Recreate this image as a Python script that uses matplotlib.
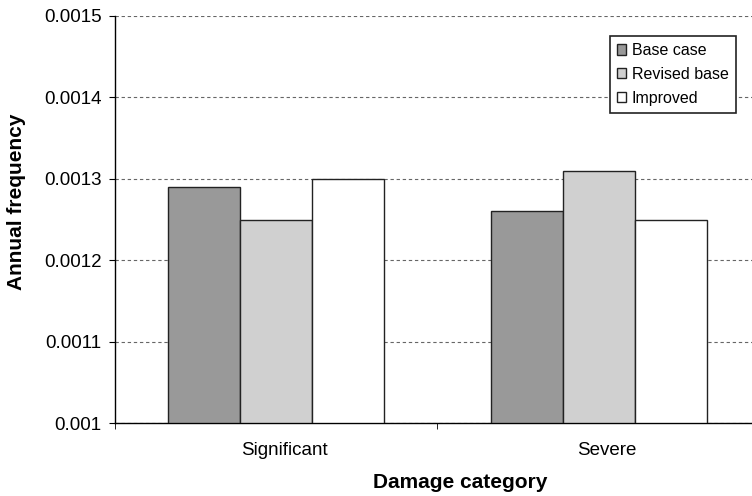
import numpy as np
import matplotlib.pyplot as plt

plt.rcParams['font.family'] = ['Liberation Sans', 'DejaVu Sans']

categories = ["Significant", "Severe"]
series = ["Base case", "Revised base", "Improved"]
base_case = [0.00129, 0.00126]
revised_base = [0.00125, 0.00131]
improved = [0.00130, 0.00125]
y_ticks = [0.001, 0.0011, 0.0012, 0.0013, 0.0014, 0.0015]
y_labels = ["0.001", "0.0011", "0.0012", "0.0013", "0.0014", "0.0015"]

colors = ["#999999", "#d0d0d0", "#ffffff"]

W, H = 752, 496
fig = plt.figure(figsize=(W / 100, H / 100), dpi=100)
ax = fig.add_axes([115 / W, 73 / H, 637 / W, 407 / H])

x = np.arange(len(categories))
w = 0.223
for i, (vals, name) in enumerate(zip([base_case, revised_base, improved], series)):
    ax.bar(x + (i - 1) * w, np.array(vals) - 0.001, w, bottom=0.001,
           color=colors[i], edgecolor="#222222", linewidth=1.0, label=name, zorder=3)

ax.set_ylim(0.001, 0.0015)
ax.set_yticks(y_ticks)
ax.set_yticklabels(y_labels, fontsize=13.5)
ax.yaxis.grid(True, linestyle=(0, (3, 2.5)), color="#666666", linewidth=0.8, zorder=0)

ax.set_xlim(-0.4985, 1.474)
ax.set_xticks(x + 0.025)
ax.set_xticklabels(categories, fontsize=13.5)
ax.tick_params(axis="x", which="major", length=0, pad=14)
ax.set_xticks([-0.4985, 0.5], minor=True)
ax.tick_params(axis="x", which="minor", length=4, direction="out")
ax.tick_params(axis="y", length=4, direction="out", pad=5.5)

for s in ["top", "right"]:
    ax.spines[s].set_visible(False)
ax.spines["left"].set_linewidth(1.0)
ax.spines["bottom"].set_linewidth(1.0)

fig.text(460 / W, 1 - 482 / H, "Damage category", fontsize=15, fontweight="bold",
         ha="center", va="center")
fig.text(17 / W, 1 - 202 / H, "Annual frequency", fontsize=15, fontweight="bold",
         ha="center", va="center", rotation=90)

leg = ax.legend(loc="upper right", bbox_to_anchor=((736 - 115) / 637, (423 - 36) / 407),
                fontsize=11.5, handlelength=0.6, handleheight=0.6, handletextpad=0.35,
                labelspacing=0.55, borderpad=0.45, borderaxespad=0, fancybox=False,
                framealpha=1, edgecolor="#222222")
leg.get_frame().set_linewidth(1.2)

fig.savefig("out.png", dpi=100)
